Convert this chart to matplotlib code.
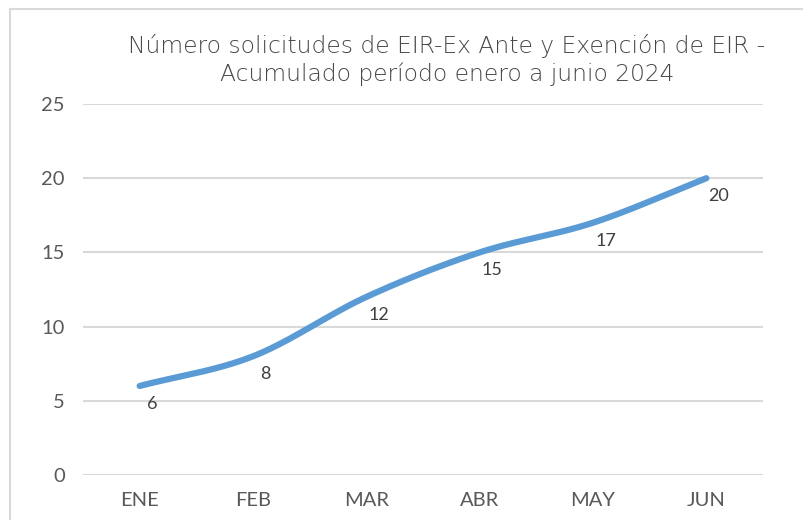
import numpy as np
import matplotlib
matplotlib.use("Agg")
import matplotlib.pyplot as plt
from matplotlib.lines import Line2D

categories = ["ENE", "FEB", "MAR", "ABR", "MAY", "JUN"]
values = [6, 8, 12, 15, 17, 20]
yticks = [0, 5, 10, 15, 20, 25]
title = "Número solicitudes de EIR-Ex Ante y Exención de EIR -\nAcumulado período enero a junio 2024"

plt.rcParams['font.family'] = ['Lato', 'DejaVu Sans']
TXT = "#595959"

fig = plt.figure(figsize=(8.04, 5.2), dpi=100)
fig.patch.set_facecolor("white")
ax = fig.add_axes([83/804, 1-475/520, (763-83)/804, (475-104)/520])

x = np.arange(len(categories))
y = np.array(values, dtype=float)

# Catmull-Rom smoothing (like Excel's smoothed line) through the data points
def catmull_rom(xs, ys, n=40):
    px = np.concatenate([[2*xs[0]-xs[1]], xs, [2*xs[-1]-xs[-2]]])
    py = np.concatenate([[2*ys[0]-ys[1]], ys, [2*ys[-1]-ys[-2]]])
    outx, outy = [], []
    for i in range(1, len(px)-2):
        t = np.linspace(0, 1, n)
        for p, out in ((px, outx), (py, outy)):
            p0, p1, p2, p3 = p[i-1], p[i], p[i+1], p[i+2]
            out.extend(0.5*((2*p1) + (-p0+p2)*t + (2*p0-5*p1+4*p2-p3)*t**2 + (-p0+3*p1-3*p2+p3)*t**3))
    return np.array(outx), np.array(outy)

sx, sy = catmull_rom(x.astype(float), y)
ax.plot(sx, sy, color="#5B9BD5", lw=4.5, solid_capstyle="round", zorder=3)

for xi, yi in zip(x, values):
    ax.annotate(str(yi), (xi, yi), xytext=(9, -13), textcoords="offset points",
                ha="center", va="center", fontsize=13, color="#404040", zorder=4)

ax.set_xlim(-0.5, len(categories)-0.5)
ax.set_ylim(0, 25)
ax.set_yticks(yticks)
ax.set_xticks(x)
ax.set_xticklabels(categories)
ax.yaxis.grid(True, color="#D9D9D9", lw=1.5)
ax.set_axisbelow(True)
for s in ax.spines.values():
    s.set_visible(False)
ax.tick_params(axis="both", length=0, labelsize=14.5, labelcolor=TXT)
ax.tick_params(axis="y", pad=13)
ax.tick_params(axis="x", pad=12)

fig.text(447/804, 1-60/520, title, ha="center", va="center", fontsize=16.8,
         color="#474747", linespacing=1.2, family=["DejaVu Sans"], fontweight="light")

# outer chart border (partially visible)
fig.add_artist(Line2D([10/804, 10/804], [0, 1-9/520], transform=fig.transFigure, color="#D9D9D9", lw=1.5))
fig.add_artist(Line2D([10/804, 1], [1-9/520, 1-9/520], transform=fig.transFigure, color="#D9D9D9", lw=1.5))

fig.savefig("out.png", dpi=100)
